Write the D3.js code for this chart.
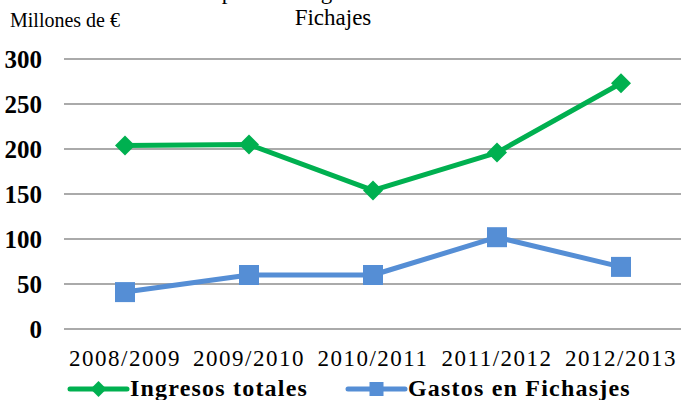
<!DOCTYPE html>
<html><head><meta charset="utf-8">
<script src="https://cdn.jsdelivr.net/npm/d3@7"></script>
<style>
html,body{margin:0;padding:0;background:#fff;}
svg{display:block;font-family:"Liberation Serif","Times New Roman",serif;}
</style></head>
<body>
<svg id="chart" width="681" height="400"></svg>
<script>
const categories = ["2008/2009","2009/2010","2010/2011","2011/2012","2012/2013"];
const ingresos = [204, 205, 154, 196, 273];
const gastos = [41, 60, 60, 102, 69];
const yTicks = [0, 50, 100, 150, 200, 250, 300];
const seriesNames = ["Ingresos totales", "Gastos en Fichasjes"];
const titleLines = ["Comparativa Ingresos - Gastos en", "Fichajes"];
const yUnit = "Millones de €";

const svg = d3.select("#chart");
const x = d3.scaleBand().domain(categories).range([63, 683]);
const cx = c => x(c) + x.bandwidth() / 2;
const y = d3.scaleLinear().domain([0, 300]).range([329, 59]);

// gridlines
svg.append("g").selectAll("line").data(yTicks).join("line")
  .attr("x1", 64).attr("x2", 681)
  .attr("y1", d => y(d)).attr("y2", d => y(d))
  .attr("stroke", "#8e8e8e").attr("stroke-width", 1.4);

// y axis labels
const yAxis = d3.axisLeft(y).tickValues(yTicks).tickSize(0).tickPadding(0);
const yg = svg.append("g").attr("transform", "translate(42,0)").call(yAxis);
yg.attr("font-family", null);
yg.select(".domain").remove();
yg.selectAll("text").attr("font-family", "Liberation Serif").attr("font-size", 25)
  .attr("font-weight", "bold").attr("fill", "#000").attr("dy", "0.35em");

// x axis labels
const xAxis = d3.axisBottom(x).tickSize(0).tickPadding(0);
const xg = svg.append("g").attr("transform", "translate(0,349)").call(xAxis);
xg.attr("font-family", null);
xg.select(".domain").remove();
xg.selectAll("text").attr("font-family", "Liberation Serif").attr("font-size", 23)
  .attr("fill", "#000").attr("dy", "0.72em").attr("letter-spacing", 1.5);

// titles
svg.append("text").attr("x", 10).attr("y", 27).attr("font-size", 20)
  .attr("fill", "#000").text(yUnit);
svg.selectAll(".title").data(titleLines).join("text").attr("class", "title")
  .attr("x", 333).attr("y", (d, i) => -1 + i * 26).attr("text-anchor", "middle")
  .attr("font-size", 23).attr("fill", "#000").text(d => d);

const green = "#00B050", blue = "#558ED5";
const line = d3.line().x(d => cx(d[0])).y(d => y(d[1]));
const ingData = categories.map((c, i) => [c, ingresos[i]]);
const gasData = categories.map((c, i) => [c, gastos[i]]);

svg.append("path").datum(gasData).attr("d", line).attr("fill", "none")
  .attr("stroke", blue).attr("stroke-width", 5).attr("stroke-linejoin", "round");
svg.append("g").selectAll("rect").data(gasData).join("rect")
  .attr("x", d => cx(d[0]) - 10).attr("y", d => y(d[1]) - 10)
  .attr("width", 20).attr("height", 20).attr("fill", blue);

svg.append("path").datum(ingData).attr("d", line).attr("fill", "none")
  .attr("stroke", green).attr("stroke-width", 5).attr("stroke-linejoin", "round");
const diamond = s => `M0,${-s}L${s},0L0,${s}L${-s},0Z`;
svg.append("g").selectAll("path").data(ingData).join("path")
  .attr("transform", d => `translate(${cx(d[0])},${y(d[1])})`)
  .attr("d", diamond(10)).attr("fill", green);

// legend
const leg = [
  {name: seriesNames[0], color: green, x1: 70, x2: 127, shape: "diamond", tx: 130},
  {name: seriesNames[1], color: blue, x1: 348, x2: 405, shape: "square", tx: 408}
];
const lg = svg.append("g");
leg.forEach(l => {
  lg.append("line").attr("x1", l.x1).attr("x2", l.x2).attr("y1", 389).attr("y2", 389)
    .attr("stroke", l.color).attr("stroke-width", 5).attr("stroke-linecap", "round");
  const mx = (l.x1 + l.x2) / 2;
  if (l.shape === "diamond") {
    lg.append("path").attr("transform", `translate(${mx},389)`).attr("d", diamond(8)).attr("fill", l.color);
  } else {
    lg.append("rect").attr("x", mx - 7).attr("y", 382).attr("width", 14).attr("height", 14).attr("fill", l.color);
  }
  lg.append("text").attr("x", l.tx).attr("y", 396).attr("font-size", 24)
    .attr("font-weight", "bold").attr("letter-spacing", 1.2).attr("fill", "#000").text(l.name);
});
</script>
</body></html>
